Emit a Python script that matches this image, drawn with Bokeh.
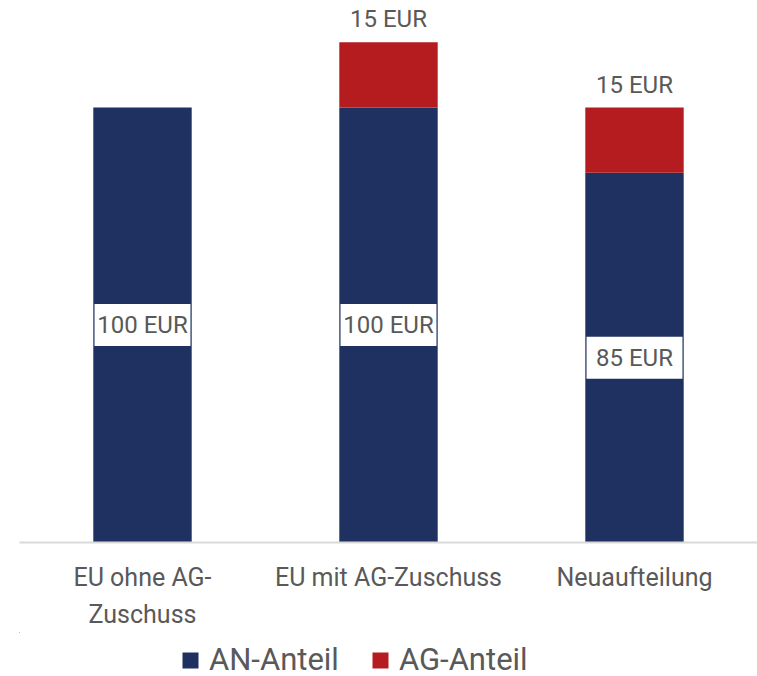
from bokeh.plotting import figure
from bokeh.layouts import column
from bokeh.models import ColumnDataSource, Range1d, FixedTicker, Legend, LegendItem, LabelSet
from bokeh.core.properties import value
from bokeh.embed import file_html
from bokeh.resources import INLINE

categories = ["EU ohne AG-\nZuschuss", "EU mit AG-Zuschuss", "Neuaufteilung"]
an_anteil = [100, 100, 85]
ag_anteil = [0, 15, 15]
an_labels = ["100 EUR", "100 EUR", "85 EUR"]
ag_labels = ["", "15 EUR", "15 EUR"]
series_names = ["AN-Anteil", "AG-Anteil"]

NAVY = "#1F3161"
RED = "#B41C1F"
TXT = "#595959"
FONT = "Roboto"

xs = list(range(len(categories)))
src = ColumnDataSource(dict(
    x=xs, an=an_anteil, ag=ag_anteil,
    an_mid=[a / 2 for a in an_anteil],
    total=[a + g for a, g in zip(an_anteil, ag_anteil)],
    an_lab=an_labels,
))
ag_src = ColumnDataSource(dict(
    x=[x for x, g in zip(xs, ag_anteil) if g > 0],
    total=[a + g for a, g in zip(an_anteil, ag_anteil) if g > 0],
    lab=[l for l, g in zip(ag_labels, ag_anteil) if g > 0],
))

p = figure(frame_width=738, frame_height=542, output_backend="svg", toolbar_location=None,
           x_range=Range1d(-0.5, 2.5), y_range=Range1d(0, 124.6),
           min_border_left=19, min_border_right=0, min_border_top=0, min_border_bottom=0)
p.outline_line_color = None
p.xgrid.visible = False
p.ygrid.visible = False
p.yaxis.visible = False
p.background_fill_color = "white"
p.border_fill_color = "white"

r = p.vbar_stack(["an", "ag"], x="x", width=0.4, source=src, color=[NAVY, RED], line_color=None)

# white label boxes
p.rect(x="x", y="an_mid", width=0.39, height=42, height_units="screen", source=src,
       fill_color="white", line_color=None)
p.add_layout(LabelSet(x="x", y="an_mid", text="an_lab", source=src, text_align="center",
                      text_baseline="middle", text_font=value(FONT), text_font_size="24px",
                      text_color=TXT))
p.add_layout(LabelSet(x="x", y="total", text="lab", source=ag_src, text_align="center",
                      text_baseline="middle", y_offset=23, text_font=value(FONT),
                      text_font_size="24px", text_color=TXT))

ax = p.xaxis[0]
ax.ticker = FixedTicker(ticks=xs)
ax.major_label_overrides = {i: c for i, c in enumerate(categories)}
ax.major_tick_line_color = None
ax.minor_tick_line_color = None
ax.axis_line_color = "#D9D9D9"
ax.axis_line_width = 2
ax.major_label_text_font = FONT
ax.major_label_text_font_size = "25px"
ax.major_label_text_color = TXT
ax.major_label_text_line_height = 1.3
ax.major_label_standoff = 14

# legend strip below the chart (same data; its ranges keep the bars out of view)
lg = figure(frame_width=738, frame_height=46, output_backend="svg", toolbar_location=None,
            x_axis_type=None, y_axis_type=None,
            x_range=Range1d(100, 103), y_range=Range1d(-2000, -1000),
            min_border_left=19, min_border_right=0, min_border_top=0, min_border_bottom=0)
lg.outline_line_color = None
lg.xgrid.visible = False
lg.ygrid.visible = False
lg.background_fill_color = "white"
lg.border_fill_color = "white"
rl = lg.vbar_stack(["an", "ag"], x="x", width=0.4, source=src, color=[NAVY, RED], line_color=None)
legend = Legend(items=[LegendItem(label=series_names[0], renderers=[rl[0]]),
                       LegendItem(label=series_names[1], renderers=[rl[1]])],
                orientation="horizontal", location=(161, 0),
                glyph_width=20, glyph_height=20, label_standoff=9, spacing=31,
                label_height=20, label_text_line_height=1.0,
                label_text_font=FONT, label_text_font_size="31px", label_text_color=TXT,
                border_line_color=None, background_fill_alpha=0, padding=0, margin=0)
lg.add_layout(legend, "center")

layout = column(p, lg, spacing=0)
open("out.html", "w").write(file_html(layout, INLINE))
